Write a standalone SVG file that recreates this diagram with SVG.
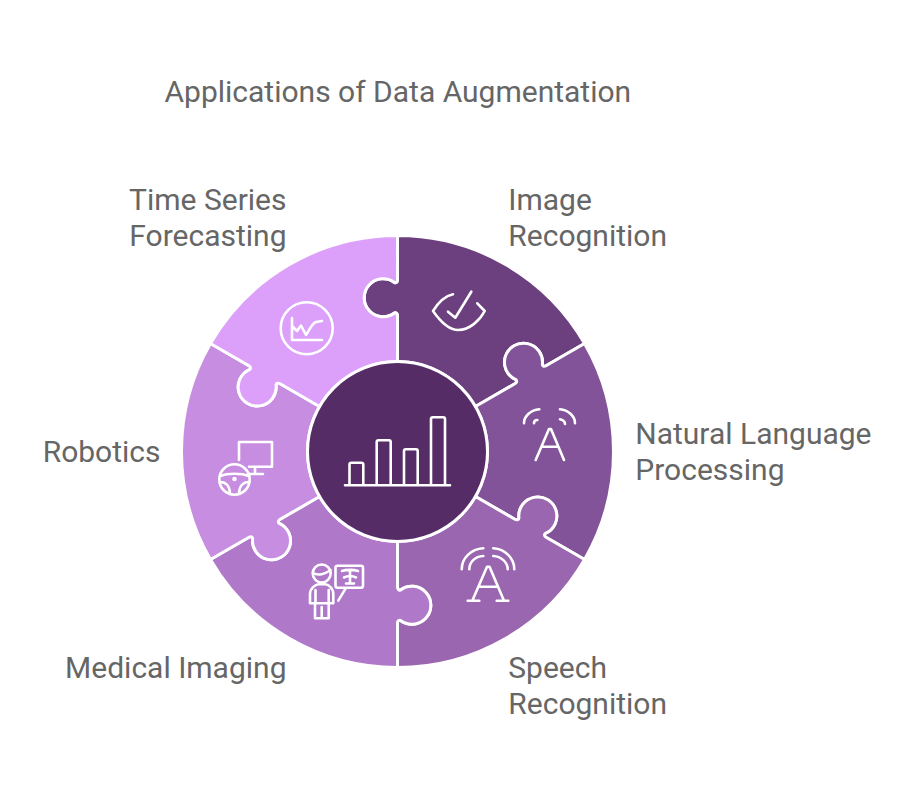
<svg xmlns="http://www.w3.org/2000/svg" width="921" height="795" viewBox="0 0 921 795">
<style>
.w{stroke:#fff;stroke-width:3;stroke-linejoin:round}
.i{fill:none;stroke:#fff;stroke-width:2.6;stroke-linecap:round;stroke-linejoin:round}
.t{font-family:Roboto,"Liberation Sans",sans-serif;font-size:30px;fill:#666}
.e{text-anchor:end}
</style>
<defs>
<path id="piece" d="M0,-90 L0,-135.5 C0,-138 -1.5,-139 -3,-138.5 A19 19 0 1 1 -3,-169 C-1.5,-168.5 0,-169 0,-171.5 L0,-216 A216 216 0 0 1 187.06,-108 L148.5,-85.75 C146.4,-84.5 145.17,-85.55 144.85,-87.1 A19 19 0 1 0 118.44,-71.85 C119.62,-70.8 119.5,-69 117.35,-67.75 L77.94,-45 A90 90 0 0 0 0,-90Z"/>
</defs>
<rect width="921" height="795" fill="#fff"/>
<text class="t" x="164.5" y="102">Applications of Data Augmentation</text>
<g id="node-image">
<use href="#piece" class="w" fill="#6c3f7f" transform="translate(397.5 451.5)"/>
<path class="i" d="M453,294.3 C445,296 438,303 433,311 C440,321 449,330 458,330 C470,330 480,320 484.7,311 L477.3,303.3 M448,311.7 L455.3,317.7 L471.3,291.7"/>
<text class="t" x="508.3" y="210">Image</text><text class="t" x="508.3" y="246">Recognition</text>
</g>
<g id="node-nlp">
<use href="#piece" class="w" fill="#825398" transform="translate(397.5 451.5) rotate(60)"/>
<path class="i" d="M535.7,460 L549,429 L551,429 L564,460 M541.7,446.7 L558,446.7 M524,423.3 C524,416 531,410 539.3,409.3 M534,423.3 C534,421 535.5,420 537.3,420 M560,409.3 C568,410 575,416 575,423.3 M560,419.3 C563,420 565,421 565,424"/>
<text class="t" x="635.3" y="444">Natural Language</text><text class="t" x="635.3" y="480">Processing</text>
</g>
<g id="node-speech">
<use href="#piece" class="w" fill="#9a66b0" transform="translate(397.5 451.5) rotate(120)"/>
<path class="i" d="M472.3,600.7 L487,566.7 L489.5,566.7 L504,600.7 M467.7,600.7 H479.3 M496.7,600.7 H508.3 M478.7,586.7 H498 M461.7,569.3 C461.7,558 471,549 483.3,548.3 M469.3,569.3 C469.3,562 475,556.5 483.3,556 M493.3,548.3 C505,549 514.3,558 514.3,569.3 M493.3,556 C501,556.5 507.7,562 507.7,569.3"/>
<text class="t" x="508.3" y="678">Speech</text><text class="t" x="508.3" y="714">Recognition</text>
</g>
<g id="node-medical">
<use href="#piece" class="w" fill="#af78c9" transform="translate(397.5 451.5) rotate(180)"/>
<g class="i">
<circle cx="321.7" cy="573.5" r="9"/>
<path d="M313,573 C318,576 325,574 330.5,570 M310,603.3 V594 C310,588 316,584.3 319,584.3 H325 C328,584.3 333.3,588 333.3,594 V603.3 Z M315.5,590 V603.3 M328.7,590 V603.3 M315,603.3 V618.3 H328.7 V603.3 M321.7,607 V618.3 M338.3,600.7 L345.7,588.3"/>
<rect x="335.5" y="565.7" width="27.5" height="22" rx="2"/>
<path d="M342,571 C346,569.5 354,569.5 358,571 M350,570 V583.5 M344,577.5 C348,575.5 352,575.5 356,577.5 M346,583.5 H354"/>
</g>
<text class="t e" x="286.5" y="678">Medical Imaging</text>
</g>
<g id="node-robotics">
<use href="#piece" class="w" fill="#c68de1" transform="translate(397.5 451.5) rotate(240)"/>
<g class="i">
<circle cx="234.5" cy="479.5" r="15.2"/>
<path d="M239,460 V442 H272 V466.7 H249 M255,467 V474 M248,474 H263 M220,476 C228,473 241,473 249,476 M220,482 C226,482 230,486 230,494 M249,482 C243,482 239,486 239,494"/>
<circle cx="234.5" cy="479" r="1"/>
</g>
<text class="t e" x="160.5" y="462">Robotics</text>
</g>
<g id="node-forecast">
<use href="#piece" class="w" fill="#dda0fa" transform="translate(397.5 451.5) rotate(300)"/>
<g class="i">
<circle cx="306.7" cy="328.3" r="26"/>
<path d="M292,318 V340 H322 M292,326 L297,331 L301,325.5 L306,335 C309,331 312,323 316,322 L322,321"/>
</g>
<text class="t e" x="286.5" y="210">Time Series</text><text class="t e" x="286.5" y="246">Forecasting</text>
</g>
<g id="node-center">
<circle class="w" cx="397.5" cy="451.5" r="90" fill="#552c66"/>
<path class="i" d="M345,485.3 H450 M349.5,485.3 V464.5 Q349.5,462.7 351.3,462.7 H361.3 Q363.3,462.7 363.3,464.5 V485.3 M376.7,485.3 V442 Q376.7,440.3 378.5,440.3 H389 Q390.7,440.3 390.7,442 V485.3 M404,485.3 V451 Q404,449.3 405.8,449.3 H416 Q417.7,449.3 417.7,451 V485.3 M431,485.3 V419 Q431,417.3 432.8,417.3 H443.2 Q445,417.3 445,419 V485.3"/>
</g>
<g id="connectors"/>
</svg>
